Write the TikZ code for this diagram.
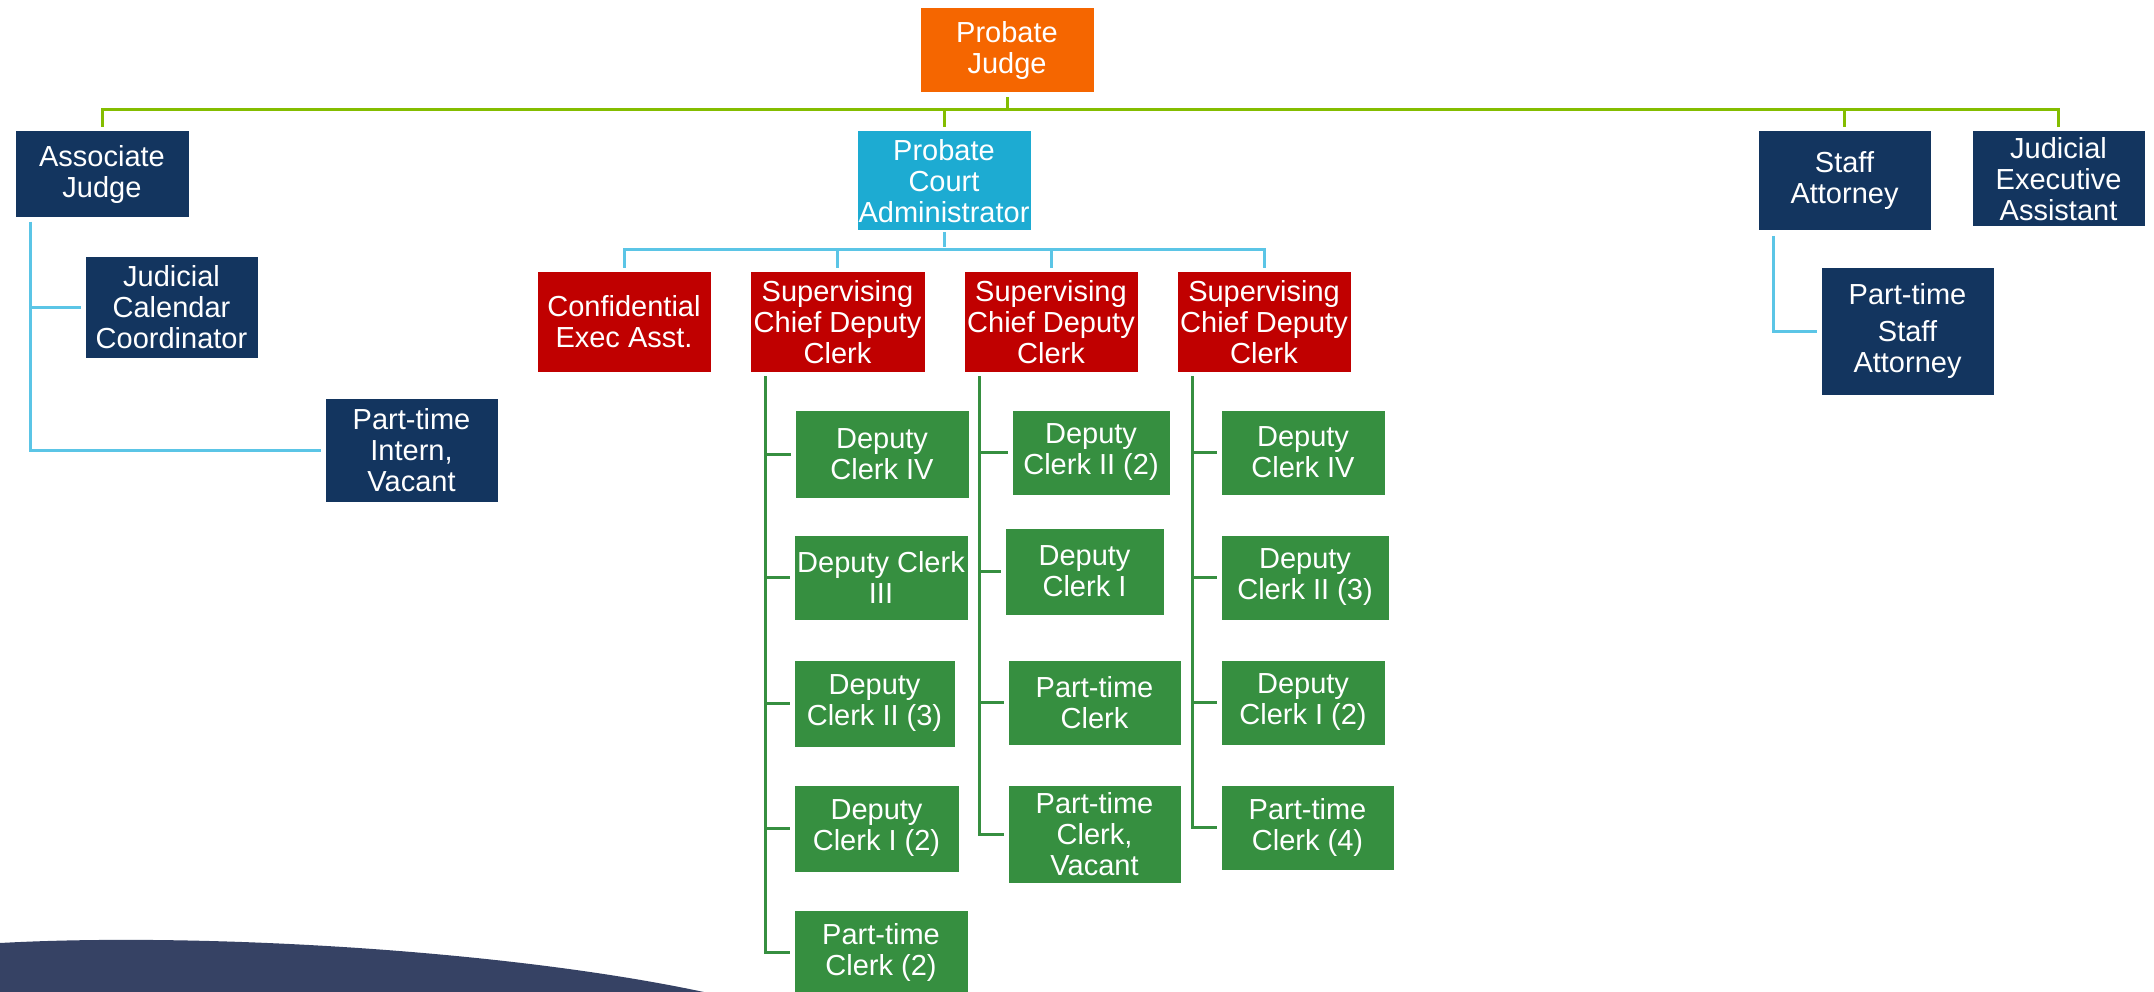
\documentclass[tikz,border=0pt]{standalone}
\usepackage{fontspec}
\setmainfont{Liberation Sans}
\usepackage{xcolor}
\usepackage{tikz}

\definecolor{pjorange}{HTML}{F56600}
\definecolor{navy}{HTML}{13355F}
\definecolor{adminblue}{HTML}{1DABD2}
\definecolor{chiefred}{HTML}{C00000}
\definecolor{clerkgreen}{HTML}{368F40}
\definecolor{limeline}{HTML}{84BD00}
\definecolor{cyanline}{HTML}{5BC5E6}
\definecolor{swoosh}{HTML}{364264}

\begin{document}
\begin{tikzpicture}[x=1pt,y=-1pt,line width=3pt,
            every node/.style={text=white,align=center,inner sep=0pt,anchor=north west,
              font=\fontsize{29}{31}\selectfont}]
        \tikzstyle{judge}=[fill=pjorange]
        \tikzstyle{staff}=[fill=navy]
        \tikzstyle{admin}=[fill=adminblue]
        \tikzstyle{chief}=[fill=chiefred,minimum width=173pt,minimum height=99pt]
        \tikzstyle{clerk}=[fill=clerkgreen,minimum height=84pt]
        \tikzstyle{topline}=[draw=limeline,shorten >=3pt]
        \tikzstyle{adminline}=[draw=cyanline,shorten >=3pt]
        \tikzstyle{clerkline}=[draw=clerkgreen,shorten >=3pt,shorten <=3pt]

        \fill[white] (0,0) rectangle (2154,992);
        \useasboundingbox (0,0) rectangle (2154,992);
        \fill[swoosh] (0,992) -- (0,943) .. controls (200,932) and (520,950) .. (722,996) -- cycle;

        % top level
        \node[judge,minimum width=173pt,minimum height=84pt] (pj) at (919,7) {Probate\\Judge};
        \node[staff,minimum width=173pt,minimum height=86pt] (aj) at (14,130) {Associate\\Judge};
        \node[admin,minimum width=173pt,minimum height=99pt] (pca) at (856,130) {Probate\\Court\\Administrator};
        \node[staff,minimum width=172pt,minimum height=99pt] (sa) at (1757,130) {Staff\\Attorney};
        \node[staff,minimum width=172pt,minimum height=95pt] (jea) at (1971,130) {Judicial\\Executive\\Assistant};

        % under the associate judge and staff attorney
        \node[staff,minimum width=172pt,minimum height=100pt] (jcc) at (84,256) {Judicial\\Calendar\\Coordinator};
        \node[staff,minimum width=172pt,minimum height=103pt] (pti) at (324,397) {Part-time\\Intern,\\Vacant};
        \node[staff,minimum width=172pt,minimum height=126pt] (ptsa) at (1820,267) {Part-time\\[6pt]Staff\\Attorney};

        % under the administrator
        \node[chief] (cea) at (536,271) {Confidential\\Exec Asst.};
        \node[chief,minimum width=174pt] (s1) at (749,271) {Supervising\\Chief Deputy\\Clerk};
        \node[chief] (s2) at (963,271) {Supervising\\Chief Deputy\\Clerk};
        \node[chief] (s3) at (1176,271) {Supervising\\Chief Deputy\\Clerk};

        \node[clerk,minimum width=173pt,minimum height=87pt] (c1a) at (794,409) {Deputy\\Clerk IV};
        \node[clerk,minimum width=173pt] (c1b) at (793,534) {Deputy Clerk\\III};
        \node[clerk,minimum width=160pt,minimum height=86pt] (c1c) at (793,659) {Deputy\\Clerk II (3)};
        \node[clerk,minimum width=164pt,minimum height=86pt] (c1d) at (793,784) {Deputy\\Clerk I (2)};
        \node[clerk,minimum width=173pt] (c1e) at (793,909) {Part-time\\Clerk (2)};

        \node[clerk,minimum width=157pt] (c2a) at (1011,409) {Deputy\\Clerk II (2)};
        \node[clerk,minimum width=158pt,minimum height=86pt] (c2b) at (1004,527) {Deputy\\Clerk I};
        \node[clerk,minimum width=172pt] (c2c) at (1007,659) {Part-time\\Clerk};
        \node[clerk,minimum width=172pt,minimum height=97pt] (c2d) at (1007,784) {Part-time\\Clerk,\\Vacant};

        \node[clerk,minimum width=163pt] (c3a) at (1220,409) {Deputy\\Clerk IV};
        \node[clerk,minimum width=167pt] (c3b) at (1220,534) {Deputy\\Clerk II (3)};
        \node[clerk,minimum width=163pt] (c3c) at (1220,659) {Deputy\\Clerk I (2)};
        \node[clerk,minimum width=172pt] (c3d) at (1220,784) {Part-time\\Clerk (4)};

        % connectors
        \coordinate (tbus) at (0,110);
        \coordinate (abus) at (0,250);
        \draw[topline] (pj.south |- tbus) -- (pj.south);
        \draw[topline,shorten <=3pt] (aj.north) |- (jea.north |- tbus) -- (jea.north);
        \draw[topline] (pca.north |- tbus) -- (pca.north);
        \draw[topline] (sa.north |- tbus) -- (sa.north);

        \draw[adminline] (pca.south) -- (pca.south |- abus);
        \draw[adminline,shorten <=3pt] (cea.north) |- (s3.north |- abus) -- (s3.north);
        \draw[adminline] (s1.north |- abus) -- (s1.north);
        \draw[adminline] (s2.north |- abus) -- (s2.north);

        \draw[adminline,shorten <=3pt] ([xshift=16pt]aj.south west) |- (jcc.west);
        \draw[adminline,shorten <=3pt] ([xshift=16pt]aj.south west) |- (pti.west);
        \draw[adminline,shorten <=4pt] ([xshift=16pt]sa.south west) |- (ptsa.west);

        \foreach \c in {c1a,c1b,c1c,c1d,c1e}
            \draw[clerkline] ([xshift=16pt]s1.south west) |- (\c.west);
        \foreach \c in {c2a,c2b,c2c,c2d}
            \draw[clerkline] ([xshift=16pt]s2.south west) |- (\c.west);
        \foreach \c in {c3a,c3b,c3c,c3d}
            \draw[clerkline] ([xshift=16pt]s3.south west) |- (\c.west);
    \end{tikzpicture}
\end{document}
